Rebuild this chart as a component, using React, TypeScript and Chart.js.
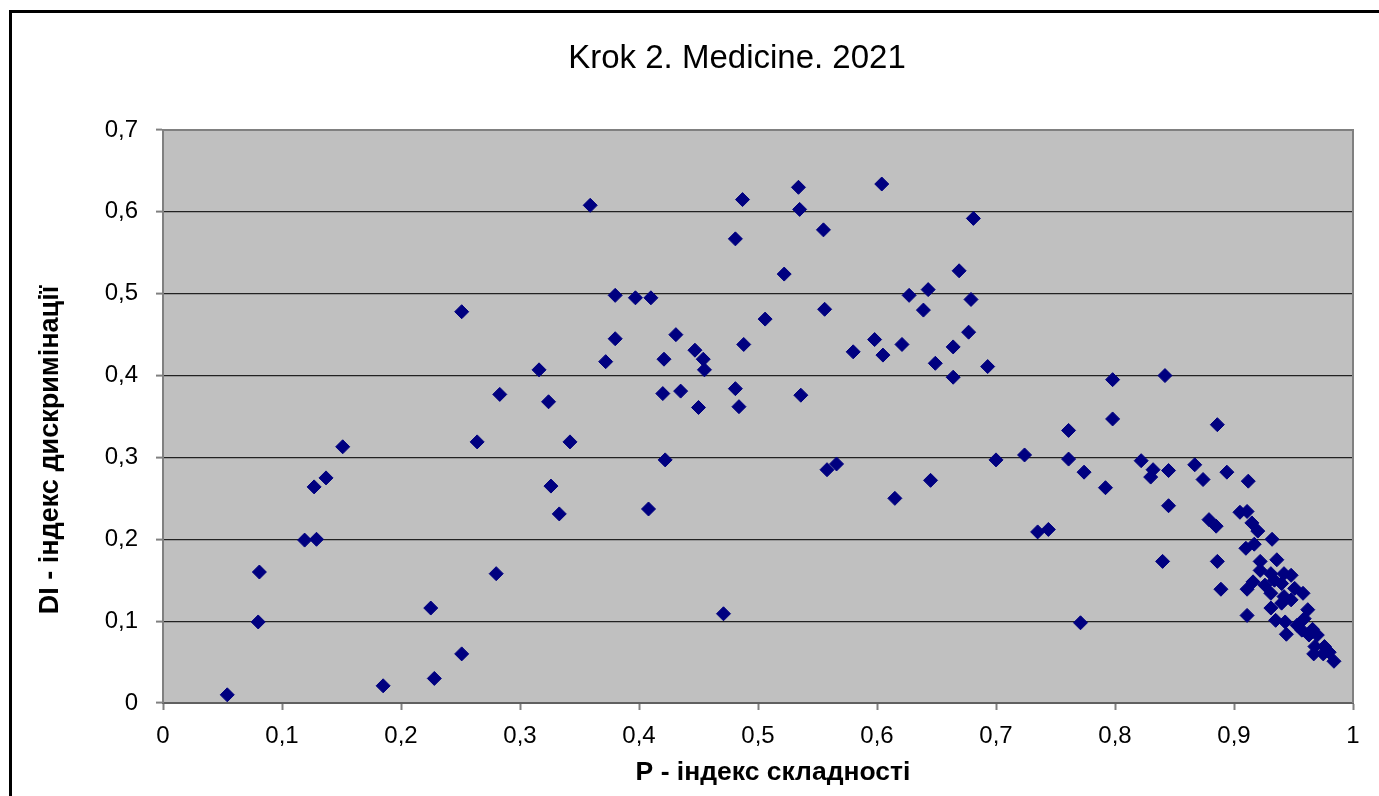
import React, { useEffect, useRef } from "react";
import { Chart, registerables } from "chart.js";

Chart.register(...registerables);

const chartTitle = "Krok 2. Medicine. 2021";
const xAxisTitle = "P - індекс складності";
const yAxisTitle = "DI - індекс дискримінації";

const pValues = [
  0.054, 0.081, 0.080, 0.119, 0.129, 0.127, 0.137, 0.151, 0.185, 0.225,
  0.228, 0.251, 0.251, 0.264, 0.280, 0.283, 0.316, 0.324, 0.326, 0.333,
  0.342, 0.359, 0.372, 0.380, 0.380, 0.397, 0.410, 0.408, 0.421, 0.420,
  0.422, 0.431, 0.435, 0.447, 0.454, 0.455, 0.450, 0.471, 0.481, 0.487,
  0.481, 0.484, 0.488, 0.506, 0.522, 0.534, 0.535, 0.536, 0.555, 0.556,
  0.558, 0.566, 0.580, 0.598, 0.604, 0.605, 0.615, 0.621, 0.627, 0.639,
  0.643, 0.645, 0.649, 0.664, 0.664, 0.669, 0.677, 0.679, 0.681, 0.693,
  0.700, 0.724, 0.735, 0.744,
  0.761, 0.761, 0.771, 0.774, 0.792, 0.798, 0.798, 0.822, 0.830, 0.832,
  0.840, 0.842, 0.845, 0.845, 0.867, 0.874, 0.879, 0.885, 0.886, 0.886,
  0.889, 0.894, 0.905, 0.910, 0.911, 0.911, 0.911, 0.912, 0.915, 0.916,
  0.917, 0.920, 0.922, 0.922, 0.926, 0.931, 0.931, 0.931, 0.932, 0.934,
  0.935, 0.936, 0.940, 0.940, 0.942, 0.942, 0.943, 0.944, 0.948, 0.948,
  0.951, 0.953, 0.957, 0.958, 0.959, 0.962, 0.963, 0.966, 0.967, 0.968,
  0.970, 0.975, 0.976, 0.980, 0.984,
];

const diValues = [
  0.010, 0.160, 0.099, 0.199, 0.200, 0.264, 0.275, 0.313, 0.021, 0.116,
  0.030, 0.060, 0.478, 0.319, 0.158, 0.377, 0.407, 0.368, 0.265, 0.231,
  0.319, 0.608, 0.417, 0.445, 0.498, 0.495, 0.495, 0.237, 0.420, 0.378,
  0.297, 0.450, 0.381, 0.431, 0.420, 0.407, 0.361, 0.109, 0.567, 0.615,
  0.384, 0.362, 0.438, 0.469, 0.524, 0.630, 0.603, 0.376, 0.578, 0.481,
  0.285, 0.292, 0.429, 0.444, 0.634, 0.425, 0.250, 0.438, 0.498, 0.480,
  0.505, 0.272, 0.415, 0.435, 0.398, 0.528, 0.453, 0.493, 0.592, 0.411,
  0.297, 0.303, 0.209, 0.212,
  0.333, 0.298, 0.098, 0.282, 0.263, 0.395, 0.347, 0.296, 0.276, 0.285,
  0.173, 0.400, 0.284, 0.241, 0.291, 0.273, 0.224, 0.216, 0.340, 0.173,
  0.139, 0.282, 0.233, 0.189, 0.107, 0.139, 0.234, 0.271, 0.220, 0.148,
  0.194, 0.210, 0.173, 0.162, 0.144, 0.158, 0.134, 0.116, 0.200, 0.150,
  0.101, 0.175, 0.146, 0.122, 0.158, 0.130, 0.099, 0.084, 0.156, 0.126,
  0.140, 0.095, 0.089, 0.134, 0.103, 0.114, 0.083, 0.090, 0.060, 0.069,
  0.083, 0.060, 0.069, 0.062, 0.051,
];

const fmt = (v: number) => {
  const n = parseFloat(Number(v).toFixed(1));
  return String(n).replace(".", ",");
};

const FONT = "'Liberation Sans', Arial, sans-serif";

const framePlugin = {
  id: "framePlugin",
  beforeDraw(chart: any) {
    const { ctx, chartArea, width, height } = chart;
    ctx.save();
    ctx.fillStyle = "#ffffff";
    ctx.fillRect(0, 0, width, height);
    ctx.strokeStyle = "#000000";
    ctx.lineWidth = 3;
    ctx.beginPath();
    ctx.moveTo(10.5, height + 5);
    ctx.lineTo(10.5, 11.5);
    ctx.lineTo(width + 5, 11.5);
    ctx.stroke();
    ctx.fillStyle = "#C0C0C0";
    ctx.fillRect(chartArea.left, chartArea.top, chartArea.right - chartArea.left, chartArea.bottom - chartArea.top);
    ctx.restore();
  },
  beforeDatasetsDraw(chart: any) {
    const { ctx, chartArea } = chart;
    ctx.save();
    ctx.strokeStyle = "#808080";
    ctx.lineWidth = 2;
    ctx.beginPath();
    ctx.moveTo(chartArea.left, chartArea.top);
    ctx.lineTo(chartArea.right, chartArea.top);
    ctx.lineTo(chartArea.right, chartArea.bottom);
    ctx.stroke();
    ctx.restore();
  },
  afterDraw(chart: any) {
    const { ctx } = chart;
    ctx.save();
    ctx.fillStyle = "#000000";
    ctx.textAlign = "center";
    ctx.textBaseline = "alphabetic";
    ctx.font = `33px ${FONT}`;
    ctx.fillText(chartTitle, 737, 68);
    ctx.font = `bold 26.5px ${FONT}`;
    ctx.fillText(xAxisTitle, 773, 780);
    ctx.font = `bold 27px ${FONT}`;
    ctx.translate(58, 450);
    ctx.rotate(-Math.PI / 2);
    ctx.fillText(yAxisTitle, 0, 0);
    ctx.restore();
  },
};

export default function App() {
  const ref = useRef<HTMLCanvasElement | null>(null);

  useEffect(() => {
    if (!ref.current) return;
    const points = pValues.map((p, i) => ({ x: p, y: diValues[i] }));
    const chart = new Chart(ref.current, {
      type: "scatter",
      data: {
        datasets: [
          {
            label: "DI",
            data: points,
            pointStyle: "rectRot",
            pointRadius: 7,
            pointBackgroundColor: "#000080",
            pointBorderColor: "#000080",
            pointBorderWidth: 1,
          },
        ],
      },
      options: {
        responsive: false,
        animation: false,
        layout: { padding: { top: 130, right: 26, left: 0, bottom: 0 } },
        plugins: {
          legend: { display: false },
          title: { display: false },
          tooltip: { enabled: false },
        },
        scales: {
          x: {
            type: "linear",
            min: 0,
            max: 1,
            afterFit: (s: any) => {
              s.height = 93;
            },
            ticks: {
              stepSize: 0.1,
              color: "#000",
              font: { family: FONT, size: 24 },
              padding: 12,
              callback: (v: any) => fmt(v),
              maxRotation: 0,
            },
            grid: {
              drawOnChartArea: false,
              drawTicks: true,
              tickLength: 7,
              tickColor: "#808080",
              tickWidth: 2,
            },
            border: { display: true, color: "#606060", width: 2 },
          },
          y: {
            type: "linear",
            min: 0,
            max: 0.7,
            afterFit: (s: any) => {
              s.width = 163;
            },
            ticks: {
              stepSize: 0.1,
              color: "#000",
              font: { family: FONT, size: 24 },
              padding: 18,
              callback: (v: any) => fmt(v),
            },
            grid: {
              drawOnChartArea: true,
              drawTicks: true,
              tickLength: 7,
              color: "#222222",
              lineWidth: 1.2,
              tickColor: "#808080",
              tickWidth: 2,
            },
            border: { display: true, color: "#808080", width: 2 },
          },
        },
      },
      plugins: [framePlugin],
    });
    return () => chart.destroy();
  }, []);

  return (
    <div style={{ position: "fixed", left: 0, top: 0, width: 1379, height: 796, overflow: "hidden", background: "#fff" }}>
      <canvas ref={ref} width={1379} height={796} style={{ width: 1379, height: 796, display: "block" }} />
    </div>
  );
}
